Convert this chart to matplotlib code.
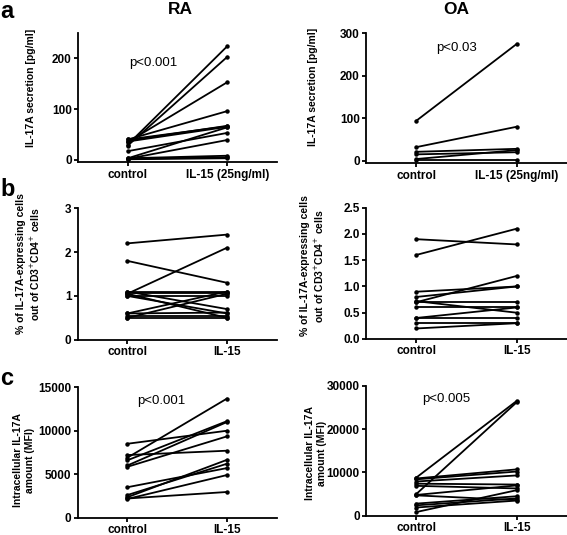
import numpy as np
import matplotlib
matplotlib.use("Agg")
import matplotlib.pyplot as plt

plt.rcParams['font.family'] = ['Liberation Sans', 'DejaVu Sans']

# paired values (control, IL-15)
a_ra_ctrl = [30, 28, 35, 40, 38, 40, 36, 3, 17, 2, 3, 2, 1]
a_ra_il15 = [224, 203, 153, 96, 67, 66, 65, 64, 53, 39, 8, 5, 3]
a_oa_ctrl = [94, 32, 21, 15, 4, 1]
a_oa_il15 = [275, 80, 28, 20, 25, 1]

b_ra_ctrl = [2.2, 1.8, 1.05, 1.1, 1.07, 1.0, 1.05, 1.0, 1.1, 0.6, 0.5, 0.6, 0.5, 0.55]
b_ra_il15 = [2.4, 1.3, 2.1, 1.1, 1.07, 1.0, 0.5, 0.6, 0.7, 1.1, 1.05, 0.62, 0.5, 0.55]
b_oa_ctrl = [1.9, 1.6, 0.7, 0.9, 0.8, 0.7, 0.72, 0.6, 0.4, 0.4, 0.3, 0.2]
b_oa_il15 = [1.8, 2.1, 1.2, 1.0, 1.0, 0.7, 0.5, 0.6, 0.6, 0.4, 0.3, 0.3]

c_ra_ctrl = [8500, 7200, 6900, 6600, 6000, 5850, 3500, 2600, 2350, 2150, 2200]
c_ra_il15 = [10000, 7700, 13700, 11100, 11000, 9350, 5700, 6200, 6650, 4900, 2950]
c_oa_ctrl = [8800, 5000, 8600, 8400, 7900, 7400, 6900, 4800, 4700, 2800, 2400, 1900, 850]
c_oa_il15 = [26500, 26200, 10700, 10200, 9300, 7200, 6300, 7000, 3600, 4500, 4000, 3500, 5900]

xlabels_a = ['control', 'IL-15 (25ng/ml)']
xlabels_bc = ['control', 'IL-15']

fig = plt.figure(figsize=(5.67, 5.35), dpi=100)

panels = [
    # rect, ctrl, il15, ylim, yticks, fmt, ylabel, label xy, xlabels, pval
    ([0.1376, 0.6966, 0.351, 0.2417], a_ra_ctrl, a_ra_il15, (-5, 250), [0, 100, 200], '%d',
     'IL-17A secretion [pg/ml]', (-0.236, 0.575), xlabels_a, ('p<0.001', 0.26, 191)),
    ([0.6455, 0.6948, 0.3545, 0.243], a_oa_ctrl, a_oa_il15, (-6, 300), [0, 100, 200, 300], '%d',
     'IL-17A secretion [pg/ml]', (-0.264, 0.587), xlabels_a, ('p<0.03', 0.40, 265)),
    ([0.137, 0.365, 0.351, 0.2456], b_ra_ctrl, b_ra_il15, (0, 3), [0, 1, 2, 3], '%d',
     '% of IL-17A-expressing cells\nout of CD3$^{+}$CD4$^{+}$ cells', (-0.245, 0.576), xlabels_bc, None),
    ([0.6455, 0.3664, 0.3545, 0.2454], b_oa_ctrl, b_oa_il15, (0, 2.5), [0, 0.5, 1.0, 1.5, 2.0, 2.5], '%.1f',
     '% of IL-17A-expressing cells\nout of CD3$^{+}$CD4$^{+}$ cells', (-0.264, 0.556), xlabels_bc, None),
    ([0.137, 0.0325, 0.351, 0.2436], c_ra_ctrl, c_ra_il15, (0, 15000), [0, 5000, 10000, 15000], '%d',
     'Intracellular IL-17A\namount (MFI)', (-0.27, 0.44), xlabels_bc, ('p<0.001', 0.34, 13475)),
    ([0.6455, 0.036, 0.3545, 0.243], c_oa_ctrl, c_oa_il15, (0, 30000), [0, 10000, 20000, 30000], '%d',
     'Intracellular IL-17A\namount (MFI)', (-0.25, 0.48), xlabels_bc, ('p<0.005', 0.30, 26950)),
]

for rect, ctrl, il15, ylim, yticks, fmt, ylabel, lxy, xl, pval in panels:
    ax = fig.add_axes(rect)
    for c0, c1 in zip(ctrl, il15):
        ax.plot([0, 1], [c0, c1], color='black', lw=1.3, marker='o', ms=2.2)
    ax.set_xlim(-0.5, 1.5)
    ax.set_ylim(*ylim)
    ax.set_yticks(yticks)
    ax.set_yticklabels([fmt % t for t in yticks], fontweight='bold', fontsize=8.5)
    ax.set_xticks([0, 1])
    ax.set_xticklabels(xl, fontweight='bold', fontsize=8.5)
    ax.spines['top'].set_visible(False)
    ax.spines['right'].set_visible(False)
    ax.spines['left'].set_linewidth(1.3)
    ax.spines['bottom'].set_linewidth(1.3)
    ax.tick_params(width=1.3, length=3, pad=1.5)
    ax.set_ylabel(ylabel, fontweight='bold', fontsize=7.5, linespacing=1.3, va='center')
    ax.yaxis.set_label_coords(*lxy)
    if pval:
        ax.text(pval[1], pval[2], pval[0], fontsize=9.5, ha='center', va='center')

fig.text(0.319, 0.997, 'RA', fontsize=12.5, fontweight='bold', ha='center', va='top')
fig.text(0.805, 0.997, 'OA', fontsize=12.5, fontweight='bold', ha='center', va='top')
fig.text(0.0, 1.0, 'a', fontsize=17, fontweight='bold', ha='left', va='top')
fig.text(0.0, 0.668, 'b', fontsize=17, fontweight='bold', ha='left', va='top')
fig.text(0.0, 0.314, 'c', fontsize=17, fontweight='bold', ha='left', va='top')

fig.savefig('out.png', dpi=100)
